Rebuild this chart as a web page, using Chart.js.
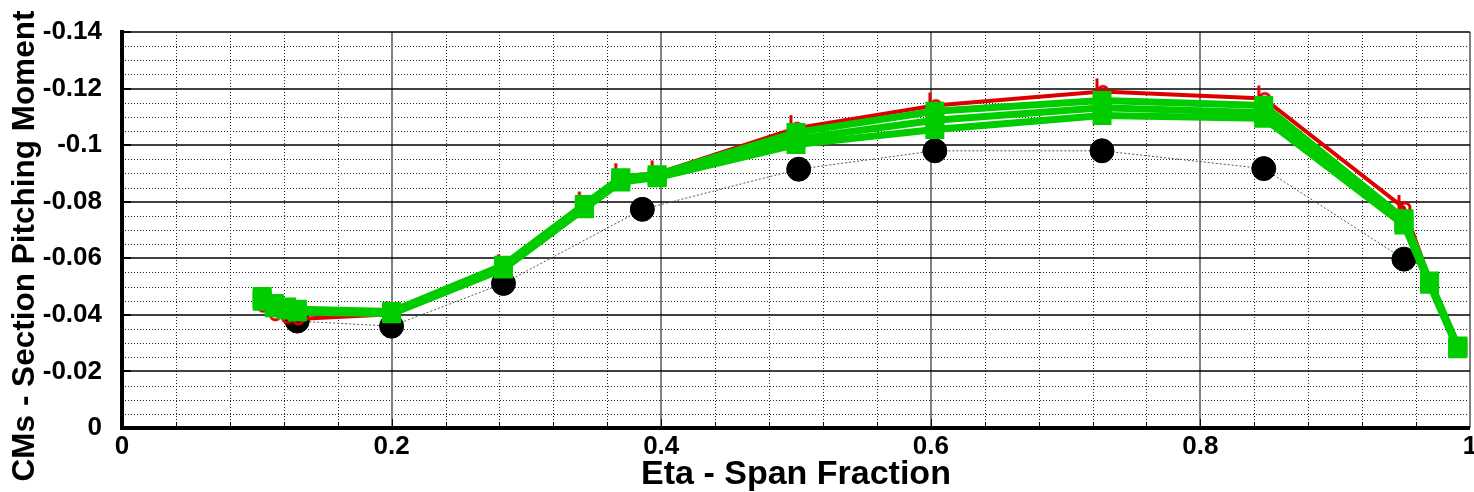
<!DOCTYPE html>
<html>
<head>
<meta charset="utf-8">
<script src="https://cdn.jsdelivr.net/npm/chart.js@4/dist/chart.umd.min.js"></script>
<style>
  html, body { margin: 0; padding: 0; background: #fff; }
  canvas { display: block; }
</style>
</head>
<body>
<canvas id="cmChart" width="1474" height="492"></canvas>
<script>
// span stations shared by the computed runs
const etaRuns = [0.104, 0.113, 0.122, 0.13, 0.2, 0.283, 0.343, 0.37, 0.397, 0.5, 0.603, 0.727, 0.847, 0.951, 0.97, 0.991];

const cmRed = [-0.0430, -0.0400, -0.0390, -0.0385, -0.0402, -0.0568, -0.0790, -0.0890, -0.0900, -0.1060, -0.1140, -0.1190, -0.1165, -0.0778, -0.0525, -0.0275];
const cmGreenA = [-0.0465, -0.0440, -0.0428, -0.0420, -0.0412, -0.0575, -0.0790, -0.0885, -0.0895, -0.1045, -0.1120, -0.1158, -0.1140, -0.0740, -0.0520, -0.0290];
const cmGreenB = [-0.0455, -0.0432, -0.0422, -0.0415, -0.0408, -0.0568, -0.0782, -0.0878, -0.0890, -0.1022, -0.1088, -0.1132, -0.1115, -0.0728, -0.0515, -0.0285];
const cmGreenC = [-0.0448, -0.0425, -0.0418, -0.0410, -0.0404, -0.0562, -0.0775, -0.0870, -0.0885, -0.1002, -0.1055, -0.1105, -0.1095, -0.0718, -0.0508, -0.0280];

// experiment
const etaExp = [0.13, 0.2, 0.283, 0.386, 0.502, 0.603, 0.727, 0.847, 0.951];
const cmExp = [-0.0378, -0.0360, -0.0511, -0.0773, -0.0915, -0.0980, -0.0980, -0.0917, -0.0597];

const xTickLabels = ["0", "0.2", "0.4", "0.6", "0.8", "1"];
const yTickLabels = ["0", "-0.02", "-0.04", "-0.06", "-0.08", "-0.1", "-0.12", "-0.14"];
const yTitle = "CMs - Section Pitching Moment";

const FONT = "'Liberation Sans', Arial, Helvetica, sans-serif";

function pts(xs, ys) {
  return xs.map((x, i) => ({ x: x, y: ys[i] }));
}

// red run marker: open circle with a short stem
function stemMarker() {
  const c = document.createElement("canvas");
  c.width = 18;
  c.height = 40;
  const g = c.getContext("2d");
  g.strokeStyle = "#dd0000";
  g.lineWidth = 3;
  g.beginPath();
  g.arc(10, 20, 5, 0, Math.PI * 2);
  g.stroke();
  g.beginPath();
  g.moveTo(4, 21);
  g.lineTo(4, 7);
  g.stroke();
  return c;
}

// dotted minor grid, solid major grid, heavy axes, inward ticks, vertical title
const gridPlugin = {
  id: "cmGrid",
  beforeDatasetsDraw(chart) {
    const { ctx, chartArea: a, scales } = chart;
    const sx = scales.x, sy = scales.y;
    ctx.save();
    ctx.lineWidth = 1;

    ctx.strokeStyle = "#222";
    ctx.setLineDash([1, 2]);
    for (let i = 1; i < 25; i++) {
      if (i % 5 === 0) continue;
      const px = Math.round(sx.getPixelForValue(i * 0.04)) + 0.5;
      ctx.beginPath(); ctx.moveTo(px, a.top); ctx.lineTo(px, a.bottom); ctx.stroke();
    }
    for (let i = 1; i < 28; i++) {
      if (i % 4 === 0) continue;
      const py = Math.round(sy.getPixelForValue(-i * 0.005)) + 0.5;
      ctx.beginPath(); ctx.moveTo(a.left, py); ctx.lineTo(a.right, py); ctx.stroke();
    }

    ctx.setLineDash([]);
    ctx.strokeStyle = "#808080";
    ctx.lineWidth = 2;
    for (let i = 1; i <= 5; i++) {
      const px = Math.round(sx.getPixelForValue(i * 0.2));
      ctx.beginPath(); ctx.moveTo(px, a.top); ctx.lineTo(px, a.bottom); ctx.stroke();
    }
    ctx.strokeStyle = "#000";
    ctx.lineWidth = 1.5;
    for (let i = 1; i <= 7; i++) {
      const py = Math.round(sy.getPixelForValue(-i * 0.02));
      ctx.beginPath(); ctx.moveTo(a.left, py); ctx.lineTo(a.right, py); ctx.stroke();
    }
    ctx.restore();
  },
  afterDatasetsDraw(chart) {
    const { ctx, chartArea: a, scales } = chart;
    const sx = scales.x, sy = scales.y;
    ctx.save();
    ctx.strokeStyle = "#000";
    ctx.lineWidth = 2;
    for (let i = 1; i <= 7; i++) {
      const py = Math.round(sy.getPixelForValue(-i * 0.02));
      ctx.beginPath(); ctx.moveTo(a.left, py); ctx.lineTo(a.left + 9, py); ctx.stroke();
    }
    ctx.lineWidth = 1;
    for (let i = 1; i < 25; i++) {
      const px = Math.round(sx.getPixelForValue(i * 0.04)) + 0.5;
      ctx.beginPath(); ctx.moveTo(px, a.bottom); ctx.lineTo(px, a.bottom - (i % 5 === 0 ? 9 : 6)); ctx.stroke();
    }
    ctx.lineWidth = 4;
    ctx.beginPath();
    ctx.moveTo(a.left, a.top - 2);
    ctx.lineTo(a.left, a.bottom);
    ctx.lineTo(a.right, a.bottom);
    ctx.stroke();

    ctx.translate(25, 246);
    ctx.rotate(-Math.PI / 2);
    ctx.fillStyle = "#000";
    ctx.font = "bold 31.5px " + FONT;
    ctx.textAlign = "center";
    ctx.textBaseline = "middle";
    ctx.fillText(yTitle, 0, 0);
    ctx.restore();
  }
};

const greenStyle = {
  showLine: true,
  borderColor: "#00cc00",
  backgroundColor: "#00cc00",
  borderWidth: 7,
  pointStyle: "rect",
  pointRadius: 12,
  pointBorderWidth: 2,
  pointHoverRadius: 12
};

new Chart(document.getElementById("cmChart").getContext("2d"), {
  type: "scatter",
  data: {
    datasets: [
      Object.assign({ label: "Run A", data: pts(etaRuns, cmGreenA) }, greenStyle),
      Object.assign({ label: "Run B", data: pts(etaRuns, cmGreenB) }, greenStyle),
      Object.assign({ label: "Run C", data: pts(etaRuns, cmGreenC) }, greenStyle),
      {
        label: "Run R",
        data: pts(etaRuns, cmRed),
        showLine: true,
        borderColor: "#dd0000",
        backgroundColor: "#dd0000",
        borderWidth: 4,
        pointStyle: stemMarker(),
        pointRadius: 6
      },
      {
        label: "Experiment",
        data: pts(etaExp, cmExp),
        showLine: true,
        borderColor: "#555",
        borderWidth: 1,
        borderDash: [2, 2],
        backgroundColor: "#000",
        pointBorderColor: "#000",
        pointStyle: "circle",
        pointRadius: 12,
        pointBorderWidth: 1
      }
    ]
  },
  options: {
    responsive: false,
    devicePixelRatio: 1,
    animation: false,
    layout: { autoPadding: false, padding: { top: 32, right: 4, left: 0, bottom: 0 } },
    plugins: {
      legend: { display: false },
      tooltip: { enabled: false }
    },
    scales: {
      x: {
        type: "linear",
        min: 0,
        max: 1,
        grid: { display: false, drawTicks: false },
        border: { display: false },
        ticks: {
          stepSize: 0.2,
          padding: 3,
          color: "#000",
          maxRotation: 0,
          autoSkip: false,
          font: { family: FONT, size: 26, weight: "bold" },
          callback: (v) => xTickLabels[Math.round(v / 0.2)]
        },
        title: {
          display: true,
          text: "Eta - Span Fraction",
          color: "#000",
          padding: 0,
          font: { family: FONT, size: 34, weight: "bold", lineHeight: 1 }
        },
        afterFit: (s) => { s.height = 64; s.paddingLeft = 0; s.paddingRight = 0; }
      },
      y: {
        type: "linear",
        min: -0.14,
        max: 0,
        reverse: true,
        grid: { display: false, drawTicks: false },
        border: { display: false },
        ticks: {
          stepSize: 0.02,
          padding: 20,
          color: "#000",
          autoSkip: false,
          font: { family: FONT, size: 26, weight: "bold" },
          callback: (v) => yTickLabels[Math.round(-v / 0.02)]
        },
        title: { display: false },
        afterFit: (s) => { s.width = 122; s.paddingTop = 0; s.paddingBottom = 0; }
      }
    }
  },
  plugins: [gridPlugin]
});
</script>
</body>
</html>
